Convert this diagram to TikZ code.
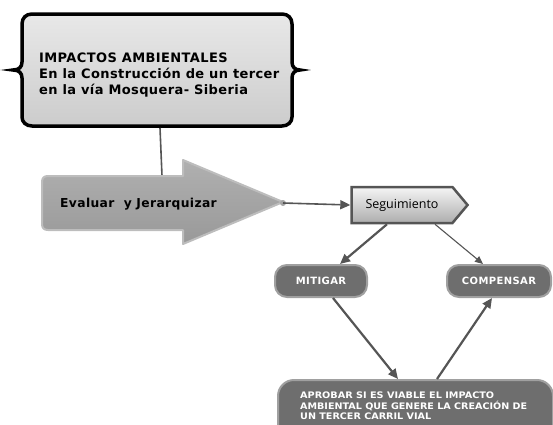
\documentclass[tikz,border=0pt]{standalone}
\usepackage{fontspec}
\usepackage{graphicx}
\setmainfont{DejaVu Sans}
\newfontfamily\segfont{Open Sans}
\usetikzlibrary{arrows.meta,shapes.symbols}
\definecolor{lineg}{HTML}{555555}
\definecolor{darkbox}{HTML}{6E6E6E}
\definecolor{darkedge}{HTML}{A0A0A0}
\newcommand{\fitline}[2]{\resizebox{#1}{\height}{#2}}
\begin{document}
\begin{tikzpicture}[x=1pt,y=-1pt,
  conn/.style={draw=lineg,line width=2.2pt,-{Triangle[length=10pt,width=9pt]}},
  thinconn/.style={draw=lineg,line width=1.1pt,-{Triangle[length=8pt,width=7pt]}},
  pill/.style={draw=darkedge,line width=2pt,fill=darkbox,rounded corners=12pt,
    minimum height=32pt,text=white,font=\bfseries\fontsize{10}{12}\selectfont\addfontfeatures{LetterSpace=4}},
]
\useasboundingbox (0,0) rectangle (553,424);
\begin{scope}
\clip (0,0) rectangle (553,424);
% top box with brace sides
\draw[line width=3.5pt,top color=black!9,middle color=black!15,bottom color=black!20]
  (32,14) -- (282,14) .. controls (288,14) and (292,18) .. (292,24) -- (292,62)
  .. controls (292,67) and (295,70) .. (300,70) .. controls (295,70) and (292,73) .. (292,78)
  -- (292,117) .. controls (292,122) and (288,126) .. (282,126) -- (32,126)
  .. controls (26,126) and (22,122) .. (22,117) -- (22,78)
  .. controls (22,73) and (19,70) .. (13,70) .. controls (19,70) and (22,67) .. (22,62)
  -- (22,24) .. controls (22,18) and (26,14) .. (32,14) -- cycle;
\node[anchor=west,align=left,inner sep=0pt,font=\bfseries\fontsize{13}{16}\selectfont\addfontfeatures{LetterSpace=3}] (title) at (39,75)
  {IMPACTOS AMBIENTALES\\En la Construcción de un tercer\\en la vía Mosquera- Siberia};
\coordinate (tb) at (160,128);
\coordinate (at) at (162,176);
\draw[lineg,line width=1.6pt] (tb) -- (at);
% big arrow
\draw[draw=black!26,line width=2pt,line join=round,top color=black!31,middle color=black!30,bottom color=black!40]
  (48,176) -- (183,176) -- (183,160) -- (283,202) -- (183,244) -- (183,230) -- (48,230)
  .. controls (44,230) and (42,228) .. (42,224) -- (42,182) .. controls (42,178) and (44,176) .. (48,176) -- cycle;
\node[anchor=west,inner sep=0pt,font=\bfseries\fontsize{12.3}{14}\selectfont\addfontfeatures{LetterSpace=3}] (eval) at (60,204) {Evaluar\ \ y Jerarquizar};
\coordinate (tip) at (283,203);
% Seguimiento
\node[signal,signal to=east,signal pointer angle=100,draw=lineg,line width=2.5pt,
  top color=black!4,bottom color=black!32,minimum width=116pt,minimum height=36pt,
  font=\segfont\fontsize{12.5}{14}\selectfont,inner xsep=6pt] (seg) at (402,205) {Seguimiento};
\fill[black!35] (tip) circle (3pt);
\draw[conn,line width=1.6pt] (tip) -- (seg.west);
% mitigar / compensar
\node[pill,minimum width=92pt] (mit) at (321,281) {MITIGAR};
\node[pill,minimum width=104pt] (comp) at (499,281) {COMPENSAR};
% bottom box
\node[draw=darkedge,line width=2pt,fill=darkbox,rounded corners=16pt,anchor=north west,
  minimum width=275pt,minimum height=70pt,inner sep=0pt] (apr) at (277,379) {};
\node[anchor=north west,align=left,inner sep=0pt,text=white,
  font=\bfseries\fontsize{9}{10.5}\selectfont] (aprt) at (300,392)
  {\fitline{194pt}{APROBAR SI ES VIABLE EL IMPACTO}\\
   \fitline{227pt}{AMBIENTAL QUE GENERE LA CREACIÓN DE}\\
   \fitline{131pt}{UN TERCER CARRIL VIAL}};
% connectors
\draw[conn] ([xshift=-15pt]seg.south) -- ([xshift=19pt]mit.north);
\draw[thinconn] ([xshift=33pt]seg.south) -- ([xshift=-16pt]comp.north);
\draw[conn] ([xshift=12pt]mit.south) -- ([xshift=121pt]apr.north west);
\draw[conn] ([xshift=160pt]apr.north west) -- ([xshift=-7pt]comp.south);
\end{scope}
\end{tikzpicture}
\end{document}
